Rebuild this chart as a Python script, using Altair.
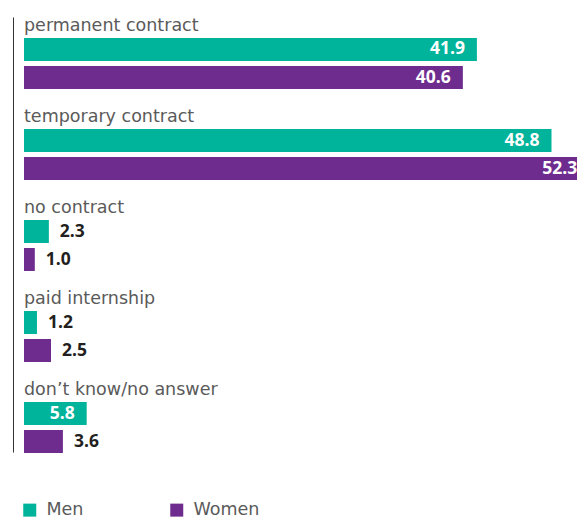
import altair as alt
import pandas as pd

categories = ["permanent contract", "temporary contract", "no contract",
              "paid internship", "don\u2019t know/no answer"]
genders = ["Men", "Women"]
men = [41.9, 48.8, 2.3, 1.2, 5.8]
women = [40.6, 52.3, 1.0, 2.5, 3.6]

colors = ["#00B39B", "#6E2C8E"]
LABEL_FONT = "DejaVu Sans"
VALUE_FONT = "Open Sans"

rows = []
for c, m, w in zip(categories, men, women):
    rows.append({"category": c, "gender": "Men", "value": m})
    rows.append({"category": c, "gender": "Women", "value": w})
df = pd.DataFrame(rows)
cat_df = pd.DataFrame({"category": categories})

y_scale = alt.Scale(domain=categories, paddingInner=0.22, paddingOuter=0)
y_axis = alt.Axis(labels=False, ticks=False, domain=True, grid=False,
                  title=None, offset=11, domainColor="#333333", domainWidth=1)
y_enc = alt.Y("category:N", sort=categories, scale=y_scale, axis=y_axis)
yoff = alt.YOffset("gender:N", sort=genders,
                   scale=alt.Scale(domain=genders, range=[21, 72],
                                   paddingInner=0.1786, paddingOuter=0))
x_scale = alt.Scale(domain=[0, 51.16], nice=False, zero=True)

bars = alt.Chart(df).mark_bar(clip=False).encode(
    x=alt.X("value:Q", scale=x_scale, axis=None),
    y=y_enc,
    yOffset=yoff,
    color=alt.Color("gender:N", sort=genders,
                    scale=alt.Scale(domain=genders, range=colors),
                    legend=alt.Legend(orient="none", legendX=-3, legendY=484,
                                      direction="horizontal", title=None,
                                      symbolType="square", symbolSize=169,
                                      symbolStrokeWidth=0, labelFontSize=17.5,
                                      labelFont=LABEL_FONT, labelColor="#5A5A5A",
                                      labelOffset=8, columnPadding=84)),
)

inside = alt.Chart(df).transform_filter("datum.value >= 5").mark_text(
    align="right", baseline="middle", dx=-12, fontSize=17.5, font=VALUE_FONT,
    fontWeight="bold", color="white"
).encode(
    x=alt.X("value:Q", scale=x_scale, axis=None),
    y=y_enc,
    yOffset=yoff,
    text=alt.Text("value:Q", format=".1f"),
)

outside = alt.Chart(df).transform_filter("datum.value < 5").mark_text(
    align="left", baseline="middle", dx=11, fontSize=17.5, font=VALUE_FONT,
    fontWeight="bold", color="#231F20"
).encode(
    x=alt.X("value:Q", scale=x_scale, axis=None),
    y=y_enc,
    yOffset=yoff,
    text=alt.Text("value:Q", format=".1f"),
)

labels = alt.Chart(cat_df).mark_text(
    align="left", baseline="alphabetic", dy=14, fontSize=17.5, font=LABEL_FONT,
    color="#5A5A5A"
).encode(
    x=alt.value(0),
    y=alt.Y("category:N", sort=categories, scale=y_scale, bandPosition=0,
            axis=y_axis),
    text="category:N",
)

chart = alt.layer(bars, inside, outside, labels).properties(
    width=553, height=435,
    padding={"left": 16, "top": 9, "right": 0, "bottom": 67},
    autosize=alt.AutoSizeParams(type="none"),
).configure_view(stroke=None)

chart.save("out.html", embed_options={"renderer": "svg", "actions": False})
